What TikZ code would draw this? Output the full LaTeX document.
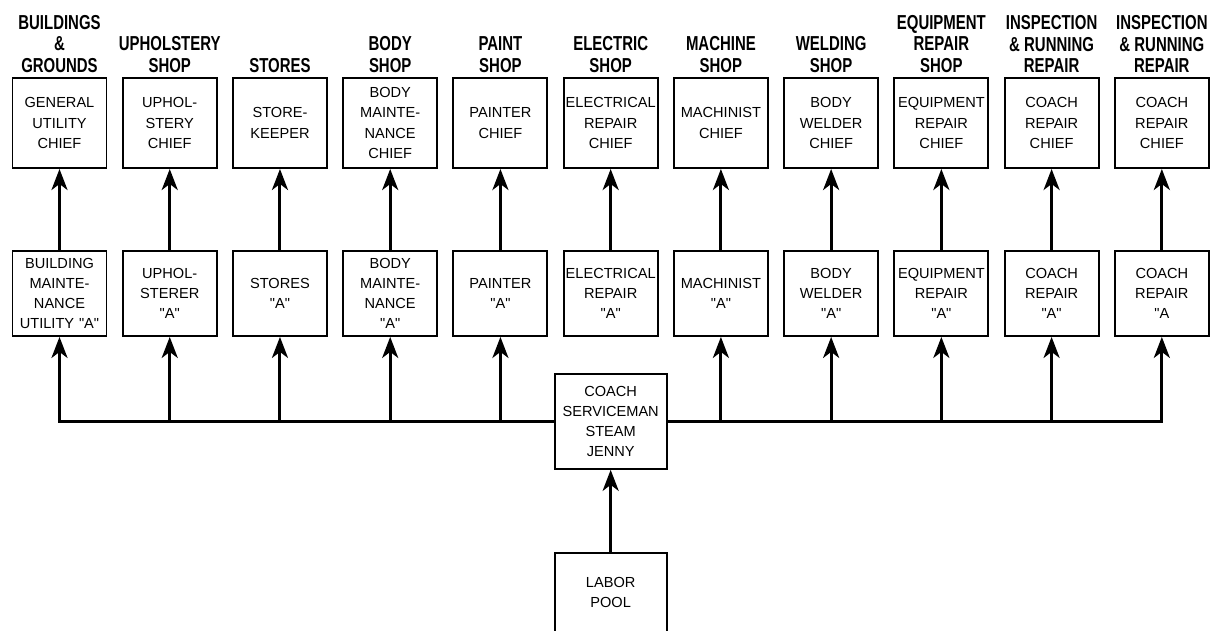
\documentclass[tikz,border=0pt]{standalone}
\usepackage{fontspec}
\setmainfont{Liberation Sans}
\newfontfamily\hdrfont[FakeStretch=0.74]{Liberation Sans}
\usepackage{tikz}
\usetikzlibrary{positioning,arrows.meta}
\newcommand{\gradeA}{\textquotedbl A\textquotedbl}
\tikzset{
  chief/.style={rectangle, draw=black, line width=1.1pt, align=center,
    text width=1.88cm, inner xsep=0pt, inner ysep=1pt,
    minimum width=1.88cm, minimum height=1.8cm, font=\fontsize{8.3}{11.5}\selectfont},
  crew/.style={chief, minimum height=1.7cm},
  hub/.style={chief, text width=2.24cm, minimum width=2.24cm, minimum height=1.9cm},
  hdr/.style={inner sep=0pt, align=center, font=\hdrfont\bfseries\fontsize{11.5}{12.3}\selectfont},
  arrow/.style={-{Stealth[length=0.42cm, width=0.32cm, inset=0.12cm]}, line width=1.7pt}
}
\begin{document}
\begin{tikzpicture}[node distance=0.286cm]
  \useasboundingbox (0,0) rectangle (24.22,-12.6);
  % chiefs
  \node[chief] (c1) at (1.19,-2.46) {GENERAL\\UTILITY\\CHIEF};
  \node[chief, right=of c1] (c2) {UPHOL-\\STERY\\CHIEF};
  \node[chief, right=of c2] (c3) {STORE-\\KEEPER};
  \node[chief, right=of c3] (c4) {BODY\\MAINTE-\\NANCE\\CHIEF};
  \node[chief, right=of c4] (c5) {PAINTER\\CHIEF};
  \node[chief, right=of c5] (c6) {ELECTRICAL\\REPAIR\\CHIEF};
  \node[chief, right=of c6] (c7) {MACHINIST\\CHIEF};
  \node[chief, right=of c7] (c8) {BODY\\WELDER\\CHIEF};
  \node[chief, right=of c8] (c9) {EQUIPMENT\\REPAIR\\CHIEF};
  \node[chief, right=of c9] (c10) {COACH\\REPAIR\\CHIEF};
  \node[chief, right=of c10] (c11) {COACH\\REPAIR\\CHIEF};
  % shop headings
  \node[hdr, above=0.08cm of c1] (h1) {BUILDINGS\\\&\\GROUNDS};
  \node[hdr, above=0.08cm of c2] (h2) {UPHOLSTERY\\SHOP};
  \node[hdr, above=0.08cm of c3] (h3) {STORES};
  \node[hdr, above=0.08cm of c4] (h4) {BODY\\SHOP};
  \node[hdr, above=0.08cm of c5] (h5) {PAINT\\SHOP};
  \node[hdr, above=0.08cm of c6] (h6) {ELECTRIC\\SHOP};
  \node[hdr, above=0.08cm of c7] (h7) {MACHINE\\SHOP};
  \node[hdr, above=0.08cm of c8] (h8) {WELDING\\SHOP};
  \node[hdr, above=0.08cm of c9] (h9) {EQUIPMENT\\REPAIR\\SHOP};
  \node[hdr, above=0.08cm of c10] (h10) {INSPECTION\\\& RUNNING\\REPAIR};
  \node[hdr, above=0.08cm of c11] (h11) {INSPECTION\\\& RUNNING\\REPAIR};
  % "A" grades
  \node[crew, below=1.62cm of c1] (w1) {BUILDING\\MAINTE-\\NANCE\\UTILITY \gradeA};
  \node[crew, below=1.62cm of c2] (w2) {UPHOL-\\STERER\\\gradeA};
  \node[crew, below=1.62cm of c3] (w3) {STORES\\\gradeA};
  \node[crew, below=1.62cm of c4] (w4) {BODY\\MAINTE-\\NANCE\\\gradeA};
  \node[crew, below=1.62cm of c5] (w5) {PAINTER\\\gradeA};
  \node[crew, below=1.62cm of c6] (w6) {ELECTRICAL\\REPAIR\\\gradeA};
  \node[crew, below=1.62cm of c7] (w7) {MACHINIST\\\gradeA};
  \node[crew, below=1.62cm of c8] (w8) {BODY\\WELDER\\\gradeA};
  \node[crew, below=1.62cm of c9] (w9) {EQUIPMENT\\REPAIR\\\gradeA};
  \node[crew, below=1.62cm of c10] (w10) {COACH\\REPAIR\\\gradeA};
  \node[crew, below=1.62cm of c11] (w11) {COACH\\REPAIR\\\textquotedbl A};
  % entry
  \node[hub, below=0.72cm of w6] (cs) {COACH\\SERVICEMAN\\STEAM\\JENNY};
  \node[hub, below=1.64cm of cs, minimum height=1.6cm] (lp) {LABOR\\POOL};
  \draw[arrow] (w1)--(c1);
  \draw[arrow] (w2)--(c2);
  \draw[arrow] (w3)--(c3);
  \draw[arrow] (w4)--(c4);
  \draw[arrow] (w5)--(c5);
  \draw[arrow] (w6)--(c6);
  \draw[arrow] (w7)--(c7);
  \draw[arrow] (w8)--(c8);
  \draw[arrow] (w9)--(c9);
  \draw[arrow] (w10)--(c10);
  \draw[arrow] (w11)--(c11);
  \draw[arrow] (cs.west) -| (w1);
  \draw[arrow] (cs.west) -| (w2);
  \draw[arrow] (cs.west) -| (w3);
  \draw[arrow] (cs.west) -| (w4);
  \draw[arrow] (cs.west) -| (w5);
  \draw[arrow] (cs.east) -| (w7);
  \draw[arrow] (cs.east) -| (w8);
  \draw[arrow] (cs.east) -| (w9);
  \draw[arrow] (cs.east) -| (w10);
  \draw[arrow] (cs.east) -| (w11);
  \draw[arrow] (lp)--(cs);
\end{tikzpicture}
\end{document}
